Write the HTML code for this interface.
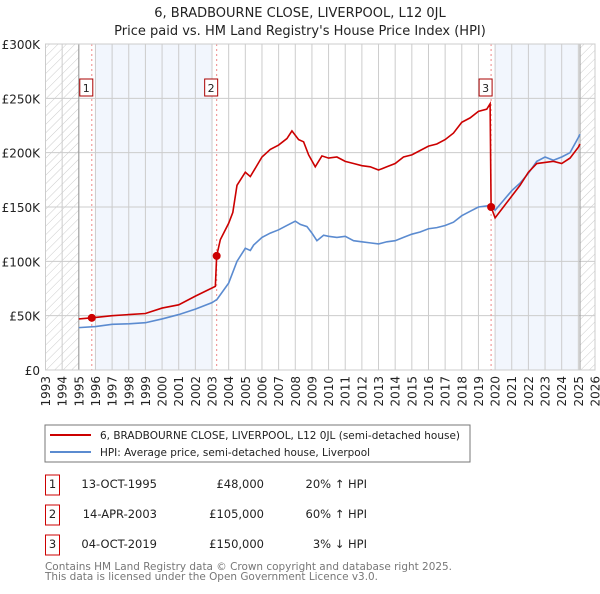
<!DOCTYPE html>
<html><head><meta charset="utf-8"><style>
body{margin:0;background:#fff;font-family:"DejaVu Sans","Liberation Sans",sans-serif;}
svg text{font-family:"DejaVu Sans","Liberation Sans",sans-serif;}
</style></head><body>
<svg id="c" width="600" height="590" xmlns="http://www.w3.org/2000/svg">
<defs><pattern id="hatch" patternUnits="userSpaceOnUse" width="6" height="6" patternTransform="rotate(45)"><line x1="0" y1="0" x2="0" y2="6" stroke="#ccc" stroke-width="1"/></pattern></defs>
<text x="300" y="17" text-anchor="middle" font-size="13" fill="#222">6, BRADBOURNE CLOSE, LIVERPOOL, L12 0JL</text>
<text x="300" y="35" text-anchor="middle" font-size="13" fill="#222">Price paid vs. HM Land Registry's House Price Index (HPI)</text>
<g id="plot"></g>
<rect x="45" y="425" width="425" height="37" fill="#fff" stroke="#777"/>
<line x1="50" y1="435" x2="91" y2="435" stroke="#cc0000" stroke-width="2"/>
<text x="100" y="439" font-size="11" fill="#222" textLength="360" lengthAdjust="spacingAndGlyphs">6, BRADBOURNE CLOSE, LIVERPOOL, L12 0JL (semi-detached house)</text>
<line x1="50" y1="452" x2="91" y2="452" stroke="#5b8bd0" stroke-width="2"/>
<text x="100" y="456" font-size="11" fill="#222" textLength="270" lengthAdjust="spacingAndGlyphs">HPI: Average price, semi-detached house, Liverpool</text>
<g font-size="11.5" fill="#222">
<rect x="45.5" y="475" width="14" height="20" fill="none" stroke="#cc0000"/><text x="52.5" y="488" text-anchor="middle">1</text>
<text x="157" y="488" text-anchor="end">13-OCT-1995</text><text x="264" y="488" text-anchor="end">£48,000</text><text x="367" y="488" text-anchor="end">20% ↑ HPI</text>
<rect x="45.5" y="505" width="14" height="20" fill="none" stroke="#cc0000"/><text x="52.5" y="518" text-anchor="middle">2</text>
<text x="157" y="518" text-anchor="end">14-APR-2003</text><text x="264" y="518" text-anchor="end">£105,000</text><text x="367" y="518" text-anchor="end">60% ↑ HPI</text>
<rect x="45.5" y="535" width="14" height="20" fill="none" stroke="#cc0000"/><text x="52.5" y="548" text-anchor="middle">3</text>
<text x="157" y="548" text-anchor="end">04-OCT-2019</text><text x="264" y="548" text-anchor="end">£150,000</text><text x="367" y="548" text-anchor="end">3% ↓ HPI</text>
</g>
<text x="45" y="570" font-size="11" fill="#777" textLength="407" lengthAdjust="spacingAndGlyphs">Contains HM Land Registry data © Crown copyright and database right 2025.</text>
<text x="45" y="580" font-size="11" fill="#777" textLength="333" lengthAdjust="spacingAndGlyphs">This data is licensed under the Open Government Licence v3.0.</text>
</svg>
<script>
const yTicks=[0,50,100,150,200,250,300];
const yTickLabels=["£0","£50K","£100K","£150K","£200K","£250K","£300K"];
const xYears=[1993,1994,1995,1996,1997,1998,1999,2000,2001,2002,2003,2004,2005,2006,2007,2008,2009,2010,2011,2012,2013,2014,2015,2016,2017,2018,2019,2020,2021,2022,2023,2024,2025,2026];
const hpiT=[1995,1996,1997,1998,1999,2000,2001,2002,2003,2003.3,2004,2004.5,2005,2005.3,2005.5,2006,2006.5,2007,2007.5,2008,2008.3,2008.7,2009,2009.3,2009.7,2010,2010.5,2011,2011.5,2012,2012.5,2013,2013.5,2014,2014.5,2015,2015.5,2016,2016.5,2017,2017.5,2018,2018.5,2019,2019.5,2019.75,2020,2020.5,2021,2021.5,2022,2022.5,2023,2023.5,2024,2024.5,2025,2025.1];
const hpiV=[39,40,42,42.5,43.5,47,51,56,62,65,80,100,112,110,115,122,126,129,133,137,134,132,126,119,124,123,122,123,119,118,117,116,118,119,122,125,127,130,131,133,136,142,146,150,151,152,147,156,165,172,181,192,196,193,196,200,214,217];
const priceT=[1995,1995.8,1997,1998,1999,2000,2001,2002,2003.2,2003.28,2003.5,2004,2004.25,2004.5,2005,2005.3,2006,2006.5,2007,2007.5,2007.8,2008.2,2008.5,2008.8,2009.2,2009.6,2010,2010.5,2011,2011.5,2012,2012.5,2013,2013.5,2014,2014.5,2015,2015.5,2016,2016.5,2017,2017.5,2018,2018.5,2019,2019.5,2019.7,2019.76,2020,2020.5,2021,2021.5,2022,2022.5,2023,2023.5,2024,2024.5,2025,2025.1];
const priceV=[47,48,50,51,52,57,60,68,77,105,120,135,145,170,182,178,196,203,207,213,220,212,210,198,187,197,195,196,192,190,188,187,184,187,190,196,198,202,206,208,212,218,228,232,238,240,245,150,140,150,160,170,182,190,191,192,190,195,205,208];
const saleT=[1995.78,2003.28,2019.76];
const saleV=[48,105,150];
const saleLabels=["1","2","3"];
const X0=45.5,X1=595,Y0=370,Y1=44;
const xs=t=>X0+(t-1993)*(X1-X0)/33;
const ys=v=>Y0-v*(Y0-Y1)/300;
const NS="http://www.w3.org/2000/svg";
const g=document.getElementById('plot');
function el(tag,attrs,parent){const e=document.createElementNS(NS,tag);for(const k in attrs)e.setAttribute(k,attrs[k]);(parent||g).appendChild(e);return e;}
let r,l;
r=el('rect',{x:xs(1996),y:Y1,width:xs(2003)-xs(1996),height:Y0-Y1,fill:'#f2f6fd'});


r=el('rect',{x:xs(2020),y:Y1,width:xs(2025)-xs(2020),height:Y0-Y1,fill:'#f2f6fd'});


r=el('rect',{x:X0,y:Y1,width:xs(1995)-X0,height:Y0-Y1,fill:'url(#hatch)'});


r=el('rect',{x:xs(2025.1),y:Y1,width:X1-xs(2025.1),height:Y0-Y1,fill:'url(#hatch)'});


yTicks.forEach((v,i)=>{
 const gl=el('line',{x1:X0,x2:X1,y1:ys(v),y2:ys(v),stroke:'#ccc'});
 
 
 const t=el('text',{x:40,y:ys(v)+5,'text-anchor':'end','font-size':12,fill:'#222'});
 t.textContent=yTickLabels[i];
 
 
});
xYears.forEach(yr=>{
 const gl=el('line',{x1:xs(yr),x2:xs(yr),y1:Y1,y2:Y0,stroke:'#ccc'});
 
 
 const t=el('text',{x:0,y:0,'text-anchor':'end','font-size':12,fill:'#222',transform:`translate(${xs(yr)+4.5},376) rotate(-90)`});
 t.textContent=yr;
 
 
});
l=el('line',{x1:xs(1995),x2:xs(1995),y1:Y1,y2:Y0,stroke:'#999'});


l=el('line',{x1:xs(2025.1),x2:xs(2025.1),y1:Y1,y2:Y0,stroke:'#999'});


saleT.forEach((t,i)=>{
 const v=el('line',{x1:xs(t),x2:xs(t),y1:Y1,y2:Y0,stroke:'#e88','stroke-dasharray':'2,3'});
 
 
});
const hp=el('polyline',{points:hpiT.map((t,i)=>xs(t)+','+ys(hpiV[i])).join(' '),fill:'none',stroke:'#5b8bd0','stroke-width':1.6});


const pp=el('polyline',{points:priceT.map((t,i)=>xs(t)+','+ys(priceV[i])).join(' '),fill:'none',stroke:'#cc0000','stroke-width':1.6});


saleT.forEach((t,i)=>{
 const c=el('circle',{cx:xs(t),cy:ys(saleV[i]),r:4,fill:'#cc0000'});
 
 
 const b=el('rect',{x:xs(t)-12,y:79,width:13,height:17,fill:'#fff',stroke:'#aa0000'});
 
 
 const tx=el('text',{x:xs(t)-5.5,y:92,'text-anchor':'middle','font-size':11,fill:'#222'});
 tx.textContent=saleLabels[i];
 
 
});
const ax=el('rect',{x:X0,y:Y1,width:X1-X0,height:Y0-Y1,fill:'none',stroke:'#ccc'});


</script>
</body></html>
